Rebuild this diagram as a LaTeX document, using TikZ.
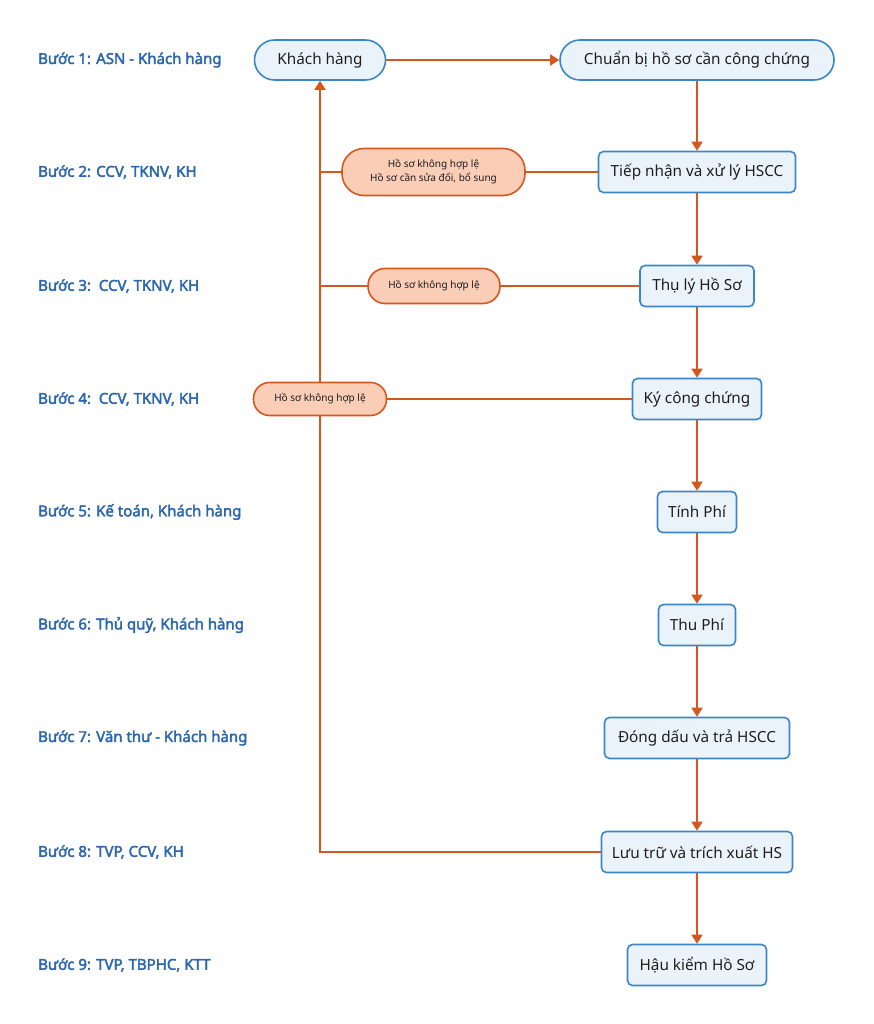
\documentclass[tikz,border=0pt]{standalone}
\usepackage{fontspec}
\setmainfont{Noto Sans}
\newfontfamily\labfont{Noto Sans}[FakeBold=2.5]
\usetikzlibrary{arrows.meta}
\definecolor{bfill}{HTML}{EBF3FA}
\definecolor{bdraw}{HTML}{3A86C8}
\definecolor{ofill}{HTML}{F9CDB6}
\definecolor{odraw}{HTML}{D2581E}
\definecolor{lab}{HTML}{2B67AF}
\definecolor{txt}{HTML}{1E1E1E}
\tikzset{
  proc/.style={draw=bdraw, fill=bfill, line width=1.6pt, rounded corners=5pt, minimum height=41pt, inner sep=0pt, text=txt, font=\fontsize{15.3}{17}\selectfont},
  pill/.style={proc, rounded corners=20pt},
  obox/.style={draw=odraw, fill=ofill, line width=1.6pt, inner sep=0pt, text=txt, font=\fontsize{10}{14}\selectfont, align=center},
  steplabel/.style={anchor=west, text=lab, font=\labfont\fontsize{15}{17}\selectfont, inner sep=0pt},
  conn/.style={draw=odraw, line width=1.6pt},
  arr/.style={conn, -{Triangle[length=9pt,width=11pt]}}
}
\begin{document}
\begin{tikzpicture}[x=1pt,y=-1pt]
\useasboundingbox[fill=white] (0,0) rectangle (874,1024);
% step labels
\node[steplabel] (s1) at (38,60) {Bước 1: ASN - Khách hàng};
\node[steplabel] (s2) at (38,172) {Bước 2: CCV, TKNV, KH};
\node[steplabel] (s3) at (38,286) {Bước 3:\ \ CCV, TKNV, KH};
\node[steplabel] (s4) at (38,399) {Bước 4:\ \ CCV, TKNV, KH};
\node[steplabel] (s5) at (38,512) {Bước 5: Kế toán, Khách hàng};
\node[steplabel] (s6) at (38,625) {Bước 6: Thủ quỹ, Khách hàng};
\node[steplabel] (s7) at (38,738) {Bước 7: Văn thư - Khách hàng};
\node[steplabel] (s8) at (38,852) {Bước 8: TVP, CCV, KH};
\node[steplabel] (s9) at (38,965) {Bước 9: TVP, TBPHC, KTT};
% main nodes
\node[pill, minimum width=131pt, minimum height=40pt] (kh) at (320,60) {Khách hàng};
\node[pill, minimum width=274pt, minimum height=40pt] (cb) at (697,60) {Chuẩn bị hồ sơ cần công chứng};
\node[proc, minimum width=197pt] (tn) at (697,172) {Tiếp nhận và xử lý HSCC};
\node[proc, minimum width=114pt] (tl) at (697,286) {Thụ lý Hồ Sơ};
\node[proc, minimum width=129pt] (ky) at (697,399) {Ký công chứng};
\node[proc, minimum width=79pt] (tinh) at (697,512) {Tính Phí};
\node[proc, minimum width=77pt] (thu) at (697,625) {Thu Phí};
\node[proc, minimum width=185pt] (dd) at (697,738) {Đóng dấu và trả HSCC};
\node[proc, minimum width=191pt] (luu) at (697,852) {Lưu trữ và trích xuất HS};
\node[proc, minimum width=139pt] (hk) at (697,965) {Hậu kiểm Hồ Sơ};
% orange boxes
\node[obox, rounded corners=22pt, minimum width=183pt, minimum height=47pt] (o1) at (433.5,172) {Hồ sơ không hợp lệ\\Hồ sơ cần sửa đổi, bổ sung};
\node[obox, rounded corners=17pt, minimum width=132pt, minimum height=35pt] (o2) at (434,286) {Hồ sơ không hợp lệ};
\node[obox, rounded corners=16pt, minimum width=133pt, minimum height=33pt] (o3) at (320,399) {Hồ sơ không hợp lệ};
% main flow
\draw[arr] (kh.east) -- (cb.west);
\draw[arr] (cb.south) -- (tn.north);
\draw[arr] (tn.south) -- (tl.north);
\draw[arr] (tl.south) -- (ky.north);
\draw[arr] (ky.south) -- (tinh.north);
\draw[arr] (tinh.south) -- (thu.north);
\draw[arr] (thu.south) -- (dd.north);
\draw[arr] (dd.south) -- (luu.north);
\draw[arr] (luu.south) -- (hk.north);
% feedback
\draw[conn] (luu.west) -| (o3.south);
\draw[arr] (o3.north) -- (kh.south);
\draw[conn] (ky.west) -- (o3.east);
\draw[conn] (tl.west) -- (o2.east);
\draw[conn] (o2.west) -- (o2.west -| kh.south);
\draw[conn] (tn.west) -- (o1.east);
\draw[conn] (o1.west) -- (o1.west -| kh.south);
\end{tikzpicture}
\end{document}
